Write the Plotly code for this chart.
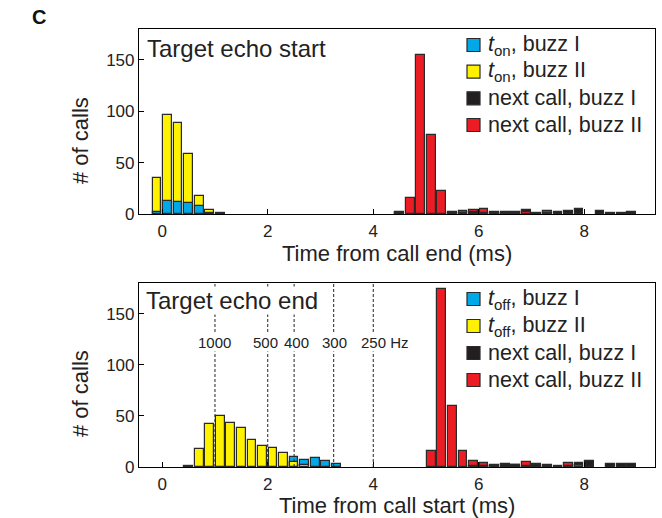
import numpy as np
import plotly.graph_objects as go

# ---------------- data ----------------
# Top panel: target echo start (bin centres, ms)
echo_start_x = [-0.1, 0.1, 0.3, 0.5, 0.7, 0.9, 1.1]
ton_buzz1 = [2, 13, 12, 11, 8, 1, 1]
ton_buzz2 = [35, 96, 89, 58, 18, 4, 0]

next_top_x = [4.5, 4.7, 4.9, 5.1, 5.3, 5.5, 5.7, 5.9, 6.1, 6.3, 6.5, 6.7,
              6.9, 7.1, 7.3, 7.5, 7.7, 7.9, 8.1, 8.3, 8.5, 8.7, 8.9]
next_top_buzz1 = [1, 0, 0, 0, 0, 1, 1, 2, 1, 1, 2, 1, 4, 1, 1, 2, 3, 5, 0, 3, 1, 1, 2]
next_top_buzz2 = [2, 16, 155, 77, 22, 2, 3, 4, 5, 2, 1, 2, 2, 0, 3, 0, 0, 0, 0, 0, 0, 0, 0]

# Bottom panel: target echo end
echo_end_x = [0.5, 0.7, 0.9, 1.1, 1.3, 1.5, 1.7, 1.9, 2.1, 2.3, 2.5, 2.7, 2.9, 3.1, 3.3]
toff_buzz1 = [0, 0, 0, 0, 0, 0, 0, 0, 0, 0, 10, 7, 9, 6, 3]
toff_buzz2 = [1, 18, 42, 50, 43, 38, 26, 21, 19, 14, 5, 2, 0, 0, 0]

next_bot_x = [5.1, 5.3, 5.5, 5.7, 5.9, 6.1, 6.3, 6.5, 6.7, 6.9, 7.1, 7.3,
              7.5, 7.7, 7.9, 8.1, 8.3, 8.5, 8.7, 8.9]
next_bot_buzz1 = [0, 0, 0, 0, 1, 1, 2, 2, 2, 1, 2, 1, 1, 1, 4, 6, 0, 3, 3, 3]
next_bot_buzz2 = [16, 174, 60, 16, 6, 4, 1, 3, 2, 5, 3, 2, 0, 4, 2, 0, 0, 0, 0, 0]

# period markers (ms) and their frequency labels
period_ms = [1.0, 2.0, 2.5, 3.25, 4.0]
period_labels = ["1000", "500", "400", "300", "250 Hz"]

x_ticks = [0, 2, 4, 6, 8]
y_ticks = [0, 50, 100, 150]

legend_top = ["<i>t</i><sub>on</sub>, buzz I", "<i>t</i><sub>on</sub>, buzz II",
              "next call, buzz I", "next call, buzz II"]
legend_bot = ["<i>t</i><sub>off</sub>, buzz I", "<i>t</i><sub>off</sub>, buzz II",
              "next call, buzz I", "next call, buzz II"]

# ---------------- style ----------------
BLUE = "#00A8E8"
YELLOW = "#FFF200"
BLACK = "#231F20"
RED = "#EC1C24"
EDGE = "#2a2a2a"
TXT = "#222"
FONT = "Liberation Sans, Arial, sans-serif"
BAR_W = 0.165
LEG_COLORS = [BLUE, YELLOW, BLACK, RED]
LABEL_SHIFT = {"1000": 0, "500": -2, "400": 2, "300": 1}

W, H = 662, 518
L, R, T, B = 139, 655, 29, 467


def px(x):
    return (x - L) / (R - L)


def py(y):
    return (B - y) / (B - T)


def nz(v):
    a = np.array(v, dtype=float)
    a[a == 0] = np.nan
    return a


fig = go.Figure()


def add_pair(x, back, front, names, colors, xa, ya):
    """back drawn first, front over it; back re-drawn in front where smaller."""
    b = nz(back)
    f = nz(front)
    fig.add_trace(go.Bar(x=x, y=b, name=names[0], marker=dict(color=colors[0], line=dict(color=EDGE, width=1.2)),
                         width=BAR_W, xaxis=xa, yaxis=ya, showlegend=False))
    fig.add_trace(go.Bar(x=x, y=f, name=names[1], marker=dict(color=colors[1], line=dict(color=EDGE, width=1.2)),
                         width=BAR_W, xaxis=xa, yaxis=ya, showlegend=False))
    bb = np.where(np.nan_to_num(b) < np.nan_to_num(f), b, np.nan)
    fig.add_trace(go.Bar(x=x, y=bb, name=names[0], marker=dict(color=colors[0], line=dict(color=EDGE, width=1.2)),
                         width=BAR_W, xaxis=xa, yaxis=ya, showlegend=False, hoverinfo="skip"))


# top panel
add_pair(echo_start_x, ton_buzz2, ton_buzz1, [legend_top[1], legend_top[0]], [YELLOW, BLUE], "x", "y")
add_pair(next_top_x, next_top_buzz2, next_top_buzz1, [legend_top[3], legend_top[2]], [RED, BLACK], "x", "y")
# bottom panel
add_pair(echo_end_x, toff_buzz2, toff_buzz1, [legend_bot[1], legend_bot[0]], [YELLOW, BLUE], "x2", "y2")
add_pair(next_bot_x, next_bot_buzz2, next_bot_buzz1, [legend_bot[3], legend_bot[2]], [RED, BLACK], "x2", "y2")

axis_common = dict(showline=True, linecolor="black", linewidth=1.2, mirror=True,
                   ticks="inside", ticklen=5, tickcolor="black", tickwidth=1,
                   showgrid=False, zeroline=False,
                   tickfont=dict(family=FONT, size=17, color=TXT))

xr = [-0.44, 9.34]
yr = [0, 180]

fig.update_layout(
    width=W, height=H,
    margin=dict(l=L, r=W - R, t=T, b=H - B, pad=0),
    paper_bgcolor="white", plot_bgcolor="white",
    barmode="overlay",
    bargap=0,
    showlegend=False,
    font=dict(family=FONT, color=TXT),
    xaxis=dict(domain=[0, 1], range=xr, anchor="y", tickvals=x_ticks, ticklabelstandoff=1, **axis_common),
    yaxis=dict(domain=[py(214), 1], range=yr, anchor="x", tickvals=y_ticks, **axis_common),
    xaxis2=dict(domain=[0, 1], range=xr, anchor="y2", tickvals=x_ticks, ticklabelstandoff=1, **axis_common),
    yaxis2=dict(domain=[0, py(283)], range=yr, anchor="x2", tickvals=y_ticks, **axis_common),
)

# period lines in bottom panel
for p in period_ms:
    fig.add_shape(type="line", x0=p, x1=p, y0=0, y1=1, xref="x2", yref="y2 domain",
                  line=dict(color=TXT, width=1, dash="3px,2px"), layer="above")

annots = []
for p, lab in zip(period_ms, period_labels):
    if lab.endswith("Hz"):
        annots.append(dict(x=p, y=122, xref="x2", yref="y2", text=lab, showarrow=False,
                           xanchor="left", xshift=-13, bgcolor="white", borderpad=0,
                           font=dict(family=FONT, size=15, color=TXT)))
    else:
        annots.append(dict(x=p, y=122, xref="x2", yref="y2", text=lab, showarrow=False,
                           xanchor="center", xshift=LABEL_SHIFT[lab], bgcolor="white", borderpad=0,
                           font=dict(family=FONT, size=15, color=TXT)))

# hand-placed legends (square swatch + text)
def add_legend(labels, row_y):
    for lab, col, yc in zip(labels, LEG_COLORS, row_y):
        fig.add_shape(type="rect", xref="paper", yref="paper",
                      x0=px(467), x1=px(480), y0=py(yc + 6.5), y1=py(yc - 6.5),
                      fillcolor=col, line=dict(color=EDGE, width=1.2))
        annots.append(dict(x=px(486), y=py(yc), xref="paper", yref="paper", text=lab,
                           showarrow=False, xanchor="left", yanchor="middle",
                           font=dict(family=FONT, size=21.5, color=TXT)))


add_legend(legend_top, [45, 71.7, 98.3, 125])
add_legend(legend_bot, [299, 326, 353, 380])

annots += [
    dict(x=px(145), y=py(48), xref="paper", yref="paper", text="Target echo start", showarrow=False,
         xanchor="left", yanchor="middle", font=dict(family=FONT, size=24, color=TXT)),
    dict(x=px(145), y=py(300), xref="paper", yref="paper", text="Target echo end", showarrow=False,
         xanchor="left", yanchor="middle", bgcolor="white", borderpad=0,
         font=dict(family=FONT, size=24, color=TXT)),
    dict(x=px(80), y=py(141), xref="paper", yref="paper", text="# of calls", showarrow=False,
         textangle=-90, xanchor="center", yanchor="middle", font=dict(family=FONT, size=22, color=TXT)),
    dict(x=px(80), y=py(394), xref="paper", yref="paper", text="# of calls", showarrow=False,
         textangle=-90, xanchor="center", yanchor="middle", font=dict(family=FONT, size=22, color=TXT)),
    dict(x=px(397), y=py(253), xref="paper", yref="paper", text="Time from call end (ms)", showarrow=False,
         xanchor="center", yanchor="middle", font=dict(family=FONT, size=22, color=TXT)),
    dict(x=px(397), y=py(505), xref="paper", yref="paper", text="Time from call start (ms)", showarrow=False,
         xanchor="center", yanchor="middle", font=dict(family=FONT, size=22, color=TXT)),
    dict(x=px(39), y=py(17), xref="paper", yref="paper", text="<b>C</b>", showarrow=False,
         xanchor="center", yanchor="middle", font=dict(family=FONT, size=20, color="#111")),
]
fig.update_layout(annotations=annots)

fig.write_html("out.html")
